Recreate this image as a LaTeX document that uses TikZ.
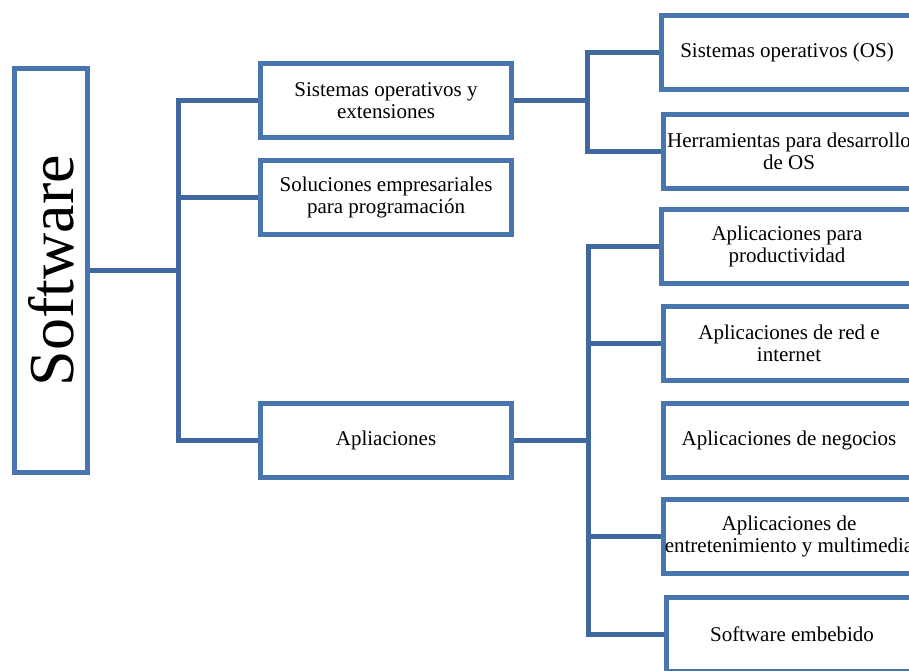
\documentclass[tikz,border=0pt]{standalone}
\usepackage{fontspec}
\setmainfont{Liberation Serif}
\definecolor{swblue}{RGB}{74,118,176}
\definecolor{linkblue}{RGB}{64,104,158}
\tikzset{
  box/.style={draw=swblue, line width=5pt, minimum width=251pt, minimum height=74pt,
    align=center, inner sep=0pt, font=\fontsize{21}{22}\selectfont},
  link/.style={draw=linkblue, line width=5pt}
}
\begin{document}
\begin{tikzpicture}[x=1pt, y=-1pt]

  \useasboundingbox (0,0) rectangle (909,670);
  \clip (0,0) rectangle (909,670);

  %% Root
  \node[draw=swblue, line width=5pt, minimum width=73pt, minimum height=404pt,
    inner sep=0pt] (sw) at (51,270.5) {};
  \node[rotate=90, font=\fontsize{64}{66}\selectfont] (swtext) at (51,270.5) {Software};

  %% Second level
  \node[box] (so) at (386,100.5) {Sistemas operativos y\\extensiones};
  \node[box] (sol) at (386,197) {Soluciones empresariales\\para programación};
  \node[box] (apl) at (386,440) {Apliaciones};

  %% Third level, operating systems
  \node[box] (os) at (787,52.5) {Sistemas operativos (OS)};
  \node[box] (herr) at (789,151) {Herramientas para desarrollo\\de OS};

  %% Third level, applications
  \node[box] (prod) at (787,246) {Aplicaciones para\\productividad};
  \node[box] (red) at (789,343.5) {Aplicaciones de red e\\internet};
  \node[box] (neg) at (789,440) {Aplicaciones de negocios};
  \node[box] (ent) at (789,536.5) {Aplicaciones de\\entretenimiento y multimedia};
  \node[box] (emb) at (792,634) {Software embebido};

  %% Connectors
  \draw[link] (sw.east) -- ++(88,0) coordinate (j1);
  \draw[link] (so.west) -| (j1) |- (apl.west);
  \draw[link] (sol.west) -- (sol.west -| j1);

  \draw[link] (so.east) -- ++(73,0) coordinate (j2);
  \draw[link] (os.west) -| (j2) |- (herr.west);

  \draw[link] (apl.east) -- ++(74,0) coordinate (j3);
  \draw[link] (prod.west) -| (j3) |- (emb.west);
  \draw[link] (red.west) -- (red.west -| j3);
  \draw[link] (ent.west) -- (ent.west -| j3);

\end{tikzpicture}
\end{document}
